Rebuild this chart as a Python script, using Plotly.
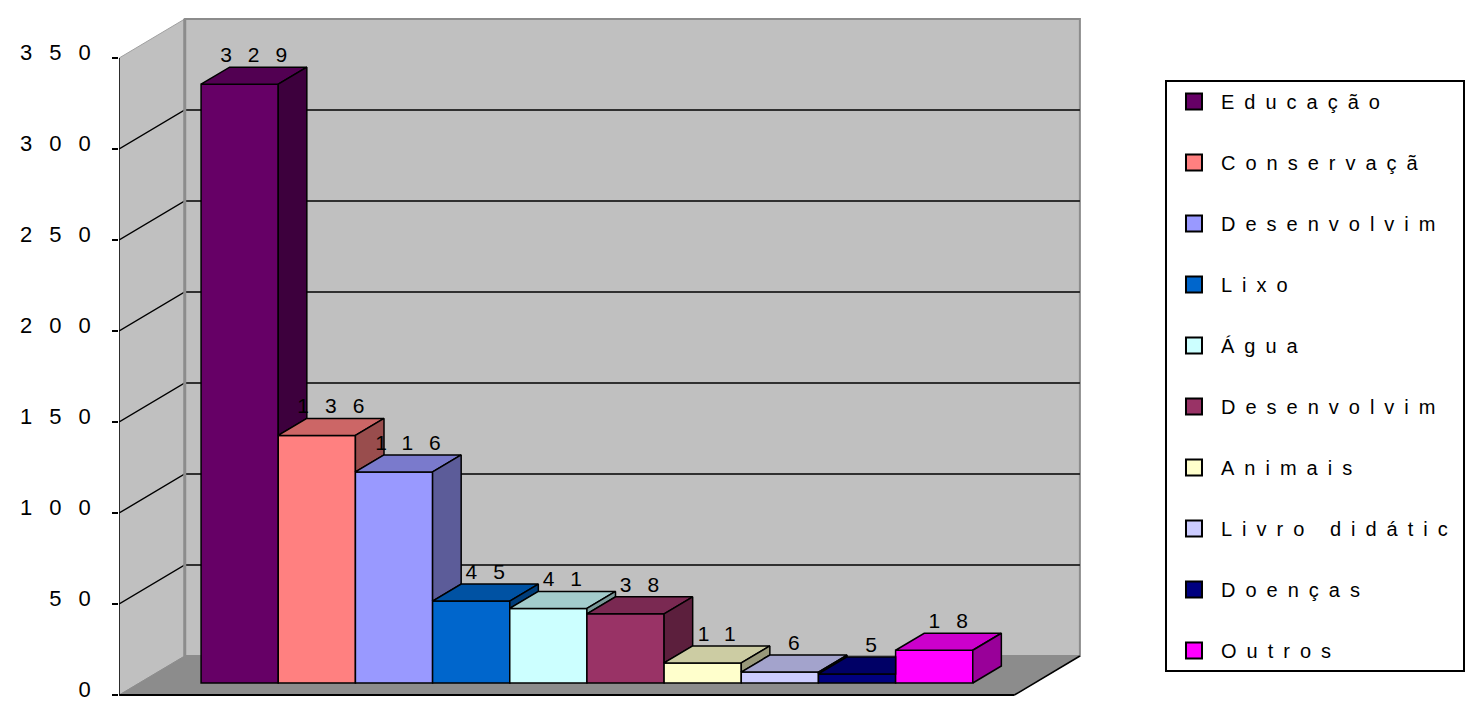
import plotly.graph_objects as go

# ---------------- data ----------------
categories = ["Educação", "Conservaçã", "Desenvolvim", "Lixo", "Água",
              "Desenvolvim", "Animais", "Livro didátic", "Doenças", "Outros"]
values = [329, 136, 116, 45, 41, 38, 11, 6, 5, 18]
value_labels = ["329", "136", "116", "45", "41", "38", "11", "6", "5", "18"]
colors = ["#660066", "#FF8080", "#9999FF", "#0066CC", "#CCFFFF",
          "#993366", "#FFFFCC", "#CCCCFF", "#000080", "#FF00FF"]
tick_values = [0, 50, 100, 150, 200, 250, 300, 350]
tick_labels = ["0", "50", "100", "150", "200", "250", "300", "350"]

# ---------------- geometry / style ----------------
FIG_W, FIG_H = 1465, 704
PX_X = 77.7            # pixels per category unit
PX_Y = 1.82            # pixels per value unit
AXIS_PX = 120          # front value axis position (px)
ZERO_PX = 695          # front zero level (px from top)
W = 11.6               # floor width in category units
M = 0.8                # gap before first bar
DX = 66 / PX_X         # full depth offset (x units)
DY = 39 / PX_Y         # full depth offset (y units)
Z1, Z2 = 12 / 39, 29 / 39   # bar front / back depth fractions
dx1, dy1 = Z1 * DX, Z1 * DY
dx2, dy2 = Z2 * DX, Z2 * DY
YTOP = tick_values[-1]

FONT = "Liberation Sans, Arial, sans-serif"


def spaced(t, ls):
    return "<span style='letter-spacing:%dpx'>%s</span>" % (ls, t)


def shade(hexc, f):
    h = hexc.lstrip("#")
    r, g, b = (int(h[k:k + 2], 16) for k in (0, 2, 4))
    return "rgb(%d,%d,%d)" % (round(r * f), round(g * f), round(b * f))


def path(pts):
    return "M " + " L ".join("%.4f,%.4f" % p for p in pts) + " Z"


fig = go.Figure()

# ---------------- walls, floor, gridlines (shapes below traces) ----------------
shapes = []
# back wall
shapes.append(dict(type="path", xref="x", yref="y", layer="below",
                   path=path([(DX, DY), (W + DX, DY), (W + DX, YTOP + DY), (DX, YTOP + DY)]),
                   fillcolor="#C0C0C0", line=dict(color="#8C8C8C", width=2)))
# left wall
shapes.append(dict(type="path", xref="x", yref="y", layer="below",
                   path=path([(0, 0), (DX, DY), (DX, YTOP + DY), (0, YTOP)]),
                   fillcolor="#C0C0C0", line=dict(color="#A0A0A0", width=1)))
# floor
shapes.append(dict(type="path", xref="x", yref="y", layer="below",
                   path=path([(0, 0), (W, 0), (W + DX, DY), (DX, DY)]),
                   fillcolor="#8C8C8C", line=dict(color="#8C8C8C", width=1)))
# gridlines on left wall and back wall
for t in tick_values[1:-1]:
    shapes.append(dict(type="path", xref="x", yref="y", layer="below",
                       path="M 0,%.4f L %.4f,%.4f L %.4f,%.4f" % (t, DX, t + DY, W + DX, t + DY),
                       line=dict(color="black", width=1.4)))
# corner line between left and back wall
shapes.append(dict(type="line", xref="x", yref="y", layer="below",
                   x0=DX, y0=DY, x1=DX, y1=YTOP + DY, line=dict(color="#8C8C8C", width=3)))
# floor right edge
shapes.append(dict(type="line", xref="x", yref="y", layer="below",
                   x0=W, y0=0, x1=W + DX, y1=DY, line=dict(color="black", width=1.5)))
# front value axis line and front base line
shapes.append(dict(type="line", xref="x", yref="y", layer="below",
                   x0=0, y0=0, x1=0, y1=YTOP, line=dict(color="black", width=1.5)))
shapes.append(dict(type="line", xref="x", yref="y", layer="below",
                   x0=-0.07, y0=0, x1=W, y1=0, line=dict(color="black", width=2)))

# ---------------- bar front faces ----------------
for i, (cat, v, c) in enumerate(zip(categories, values, colors)):
    fig.add_trace(go.Bar(
        x=[M + 0.5 + i + dx1], y=[v], base=[dy1], width=[1],
        marker=dict(color=c, line=dict(color="black", width=1.5)),
        name=cat, showlegend=False, hoverinfo="skip"))

# ---------------- bar top and side faces ----------------
n = len(values)
for i, (v, c) in enumerate(zip(values, colors)):
    xl, xr = M + i, M + i + 1
    nxt = values[i + 1] if i + 1 < n else None
    if nxt is not None and nxt > v:
        top = [(xl + dx1, v + dy1), (xr + dx1, v + dy1), (xr + dx1, v + dy2), (xl + dx2, v + dy2)]
    else:
        top = [(xl + dx1, v + dy1), (xr + dx1, v + dy1), (xr + dx2, v + dy2), (xl + dx2, v + dy2)]
    top.append(top[0])
    fig.add_trace(go.Scatter(
        x=[p[0] for p in top], y=[p[1] for p in top], mode="lines", fill="toself",
        fillcolor=shade(c, 0.8), line=dict(color="black", width=1.5),
        showlegend=False, hoverinfo="skip"))
    lower = nxt if nxt is not None else 0
    if lower < v:
        side = [(xr + dx1, lower + dy1), (xr + dx2, lower + dy2), (xr + dx2, v + dy2),
                (xr + dx1, v + dy1), (xr + dx1, lower + dy1)]
        fig.add_trace(go.Scatter(
            x=[p[0] for p in side], y=[p[1] for p in side], mode="lines", fill="toself",
            fillcolor=shade(c, 0.6), line=dict(color="black", width=1.5),
            showlegend=False, hoverinfo="skip"))

# ---------------- data labels ----------------
fig.add_trace(go.Scatter(
    x=[M + 0.5 + i + (dx1 + dx2) / 2 + 0.1 for i in range(n)],
    y=[v + dy2 for v in values],
    mode="text", text=[spaced(t, 16) for t in value_labels],
    textposition="top center",
    textfont=dict(family=FONT, size=21, color="black"),
    showlegend=False, hoverinfo="skip", cliponaxis=False))

# ---------------- legend entries ----------------
for i, (cat, c) in enumerate(zip(categories, colors)):
    fig.add_trace(go.Scatter(
        x=[None], y=[None], mode="markers", name=spaced(cat, 10),
        legendgroup="g%d" % i,
        marker=dict(symbol="square", size=16, color=c, line=dict(color="black", width=2))))

x_lo = 0
x_hi = (FIG_W - AXIS_PX) / PX_X
y_lo = -(FIG_H - ZERO_PX) / PX_Y
y_hi = y_lo + FIG_H / PX_Y

fig.update_layout(
    width=FIG_W, height=FIG_H,
    margin=dict(l=0, r=0, t=0, b=0, pad=0),
    paper_bgcolor="white", plot_bgcolor="white",
    barmode="overlay",
    shapes=shapes,
    font=dict(family=FONT, size=20, color="black"),
    xaxis=dict(domain=[AXIS_PX / FIG_W, 1], range=[x_lo, x_hi], visible=False, fixedrange=True),
    yaxis=dict(domain=[0, 1], range=[y_lo, y_hi], showgrid=False, zeroline=False,
               showline=False, ticks="outside", ticklen=6, tickwidth=1.5, tickcolor="black",
               tickvals=tick_values, ticktext=[spaced(t, 17) for t in tick_labels],
               tickfont=dict(family=FONT, size=22, color="black"),
               ticklabelstandoff=0, ticklabelshift=-6, ticklabeloverflow="allow",
               automargin=False, fixedrange=True),
    legend=dict(x=1173 / FIG_W, y=1 - 80 / FIG_H, xanchor="left", yanchor="top",
                bordercolor="black", borderwidth=2, bgcolor="white",
                font=dict(family=FONT, size=20, color="black"),
                itemwidth=44, tracegroupgap=32, traceorder="grouped"),
    showlegend=True,
)

fig.write_html("out.html")
